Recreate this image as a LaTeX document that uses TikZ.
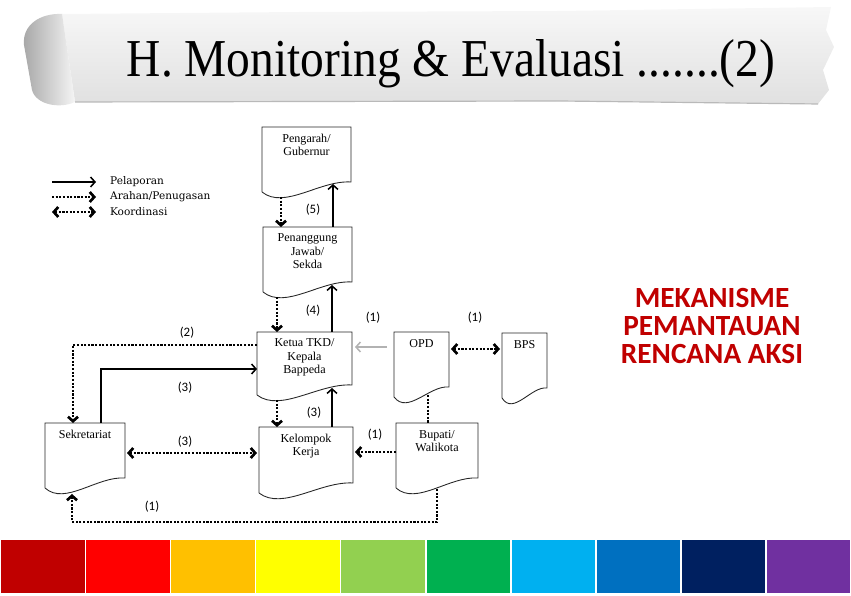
\documentclass[tikz,border=0pt]{standalone}
\usepackage{fontspec}
\setmainfont{Liberation Serif}
\newfontfamily\lblfont{Carlito}
\newfontfamily\legfont{DejaVu Serif}
\usetikzlibrary{positioning,calc,arrows.meta}

\definecolor{aksired}{HTML}{C00000}
\definecolor{barA}{HTML}{C00000}
\definecolor{barB}{HTML}{FF0000}
\definecolor{barC}{HTML}{FFC000}
\definecolor{barD}{HTML}{FFFF00}
\definecolor{barE}{HTML}{92D050}
\definecolor{barF}{HTML}{00B050}
\definecolor{barG}{HTML}{00B0F0}
\definecolor{barH}{HTML}{0070C0}
\definecolor{barI}{HTML}{002060}
\definecolor{barJ}{HTML}{7030A0}

\newlength{\pxu}
\setlength{\pxu}{0.03cm}
\newcommand{\docbox}[3]{\parbox[t][#2\pxu][t]{#1\pxu}{\centering\vspace*{6pt}#3}}

\begin{document}
\begin{tikzpicture}[x=0.03cm, y=0.03cm, >={Straight Barb[length=3.8pt,width=8.5pt]},
    doc/.style={inner sep=0pt, outer sep=0pt, anchor=north, font=\fontsize{10.3}{11.5}\selectfont},
    docline/.style={draw=black!85, line width=0.75pt},
    pel/.style={line width=1.3pt},
    arah/.style={line width=2.3pt, dash pattern=on 1.8pt off 1.3pt},
    koor/.style={arah, <->},
    num/.style={font=\lblfont\fontsize{11}{12}\selectfont},
    legend/.style={anchor=west, font=\legfont\fontsize{9}{10}\selectfont}]
    \useasboundingbox (0,0) rectangle (851,595);

    % Banner
    \shade[top color=gray!6, bottom color=gray!24]
        (62,581) -- (300,583) -- (560,584) -- (831,588) -- (826,565) -- (834,548)
        -- (823,525) -- (829,505) -- (818,491) -- (560,494) -- (75,493) -- cycle;
    \draw[gray!55, line width=1pt] (75,493) -- (560,494) -- (818,491);
    \shade[left color=gray!70, right color=gray!8]
        (62,581) .. controls (40,582) and (22,570) .. (24,550) -- (32,505)
        .. controls (36,490) and (60,486) .. (75,493) -- cycle;
    \node[font=\fontsize{45.5}{50}\selectfont, xscale=0.89, anchor=base] (titel) at (451,518)
        {H. Monitoring \& Evaluasi .......(2)};

    % Legend
    \node[legend] (lgpel) at (106,413) {Pelaporan};
    \node[legend] (lgarah) at (106,398) {Arahan/Penugasan};
    \node[legend] (lgkoor) at (106,383) {Koordinasi};
    \draw[pel, ->] ($(lgpel.west)+(-54,0)$) -- ($(lgpel.west)+(-10,0)$);
    \draw[arah, ->] ($(lgarah.west)+(-54,0)$) -- ($(lgarah.west)+(-10,0)$);
    \draw[koor] ($(lgkoor.west)+(-54,0)$) -- ($(lgkoor.west)+(-10,0)$);

    % Documents
    \node[doc] (pengarah) at (306.5,468) {\docbox{89}{65}{Pengarah/\\Gubernur}};
    \node[doc] (sekda) at (307.5,368) {\docbox{89}{65}{Penanggung\\Jawab/\\Sekda}};
    \node[doc] (ketua) at (304.5,263) {\docbox{95}{63}{Ketua TKD/\\Kepala\\Bappeda}};
    \node[doc] (opd) at (421.5,263) {\docbox{55}{65}{OPD}};
    \node[doc] (bps) at (524.5,262) {\docbox{45}{65}{BPS}};
    \node[doc] (sekretariat) at (85,172) {\docbox{80}{65}{Sekretariat}};
    \node[doc] (kelompok) at (306,168) {\docbox{94}{66}{Kelompok\\Kerja}};
    \node[doc] (bupati) at (437,172) {\docbox{82}{65}{Bupati/\\Walikota}};

    \foreach \n in {pengarah,sekda,ketua,opd,bps,sekretariat,kelompok,bupati}
        \draw[docline] (\n.south west) -- (\n.north west) -- (\n.north east)
            -- ($(\n.south east)+(0,10)$)
            .. controls ($(\n.south west)!0.65!(\n.south east)+(0,12)$)
            and ($(\n.south west)!0.25!(\n.south east)+(0,-18)$) .. (\n.south west);

    % Connectors
    \draw[arah, ->] ($(pengarah.south west)+(19,-5)$) -- ($(sekda.north west)+(18,0)$);
    \draw[pel, ->] ($(sekda.north west)+(70,0)$) -- ($(pengarah.south west)+(71,8)$);
    \draw[arah, ->] ($(sekda.south west)+(14,-5)$) -- ($(ketua.north west)+(20,0)$);
    \draw[pel, ->] ($(ketua.north west)+(75,0)$) -- ($(sekda.south west)+(69,7)$);
    \draw[arah, ->] ($(ketua.south west)+(20,-5)$) -- ($(kelompok.north west)+(18,0)$);
    \draw[pel, ->] ($(kelompok.north west)+(73,0)$) -- ($(ketua.south west)+(75,7)$);
    \draw[arah, ->] ($(ketua.north west)+(0,-13)$) -| ($(sekretariat.north west)+(28,0)$);
    \draw[pel, ->] ($(sekretariat.north west)+(56,0)$) |- ($(ketua.north west)+(0,-37)$);
    \draw[pel, ->, gray!60] ($(opd.north west)+(-7,-15)$) -- ($(ketua.north east)+(3,-15)$);
    \draw[koor] ($(opd.north east)+(2,-17)$) -- ($(bps.north west)+(-2,-16)$);
    \draw[arah] ($(opd.south west)+(34,2)$) -- ($(bupati.north west)+(32,0)$);
    \draw[koor] ($(sekretariat.north east)+(2,-30)$) -- ($(kelompok.north west)+(-2,-26)$);
    \draw[arah, ->] ($(bupati.north west)+(0,-29)$) -- ($(kelompok.north east)+(2,-25)$);
    \draw[arah, ->] ($(bupati.south west)+(41,-1)$) -- ++(0,-33)
        -| ($(sekretariat.south west)+(27,-6)$);

    % Labels
    \node[num] (l5) at (313,385) {(5)};
    \node[num] (l4) at (313,284) {(4)};
    \node[num] (l3a) at (314,182) {(3)};
    \node[num] (l2) at (187,262) {(2)};
    \node[num] (l3b) at (185,207) {(3)};
    \node[num] (l1a) at (373,277) {(1)};
    \node[num] (l1b) at (475,277) {(1)};
    \node[num] (l3c) at (185,153) {(3)};
    \node[num] (l1c) at (375,160) {(1)};
    \node[num] (l1d) at (152,88) {(1)};

    % Title on the right
    \node[font=\lblfont\bfseries\fontsize{25}{24}\selectfont, text=aksired, align=center] (judul)
        at (712,269) {MEKANISME\\PEMANTAUAN\\RENCANA AKSI};

    % Colour bar
    \foreach \c [count=\i from 0] in {barA,barB,barC,barD,barE,barF,barG,barH,barI,barJ}
        \fill[\c] (\i*85.1+1,2) rectangle ++(83.5,53);
\end{tikzpicture}
\end{document}
